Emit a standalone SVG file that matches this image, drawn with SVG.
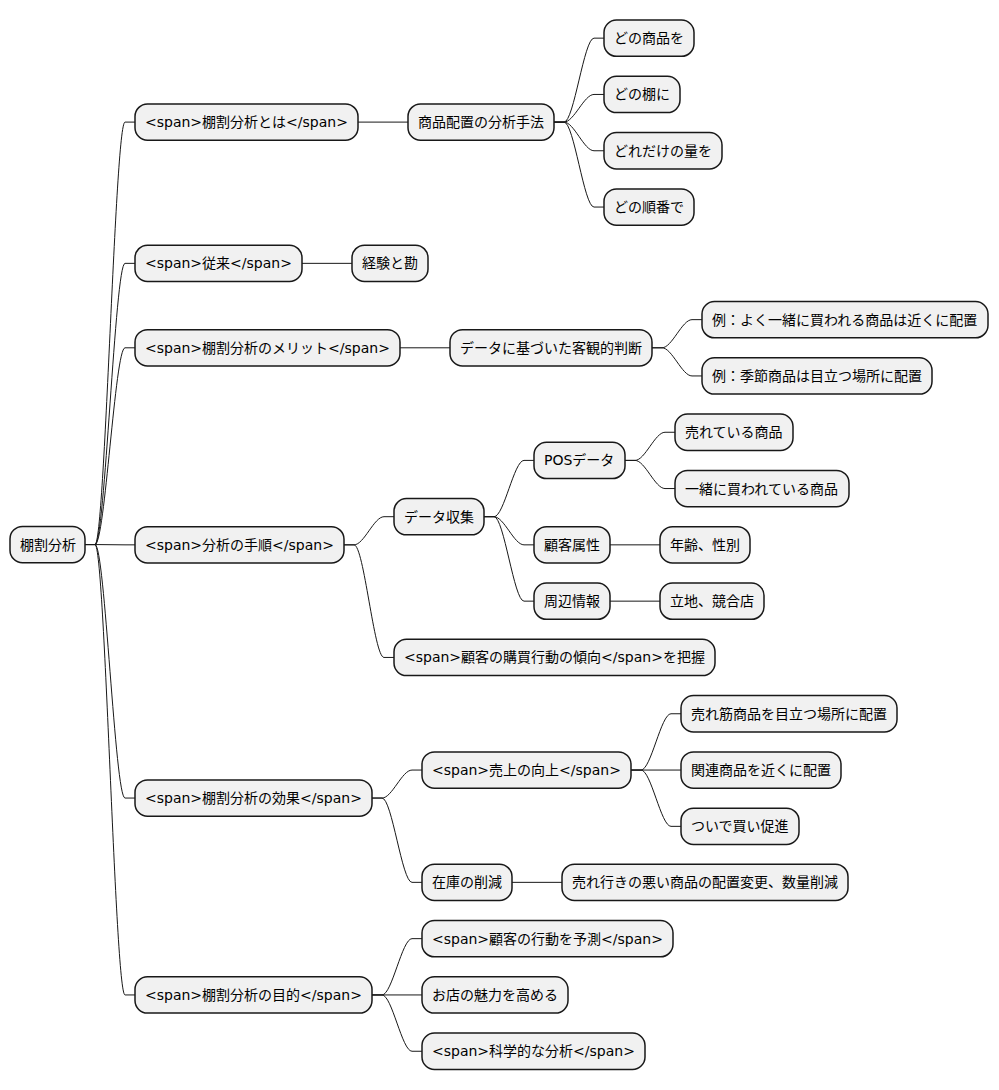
<svg xmlns="http://www.w3.org/2000/svg" width="999" height="1090" viewBox="0 0 999 1090">
  <style>
    .box { fill: #F1F1F1; stroke: #181818; stroke-width: 1.5; }
    .lbl { font-family: "DejaVu Sans", "Noto Sans CJK JP", sans-serif; font-size: 14px; fill: #000000; }
    .edge { fill: none; stroke: #181818; stroke-width: 1; }
  </style>
  <rect width="999" height="1090" fill="#FFFFFF"/>

  <!-- connectors: stub, S-curve, stub -->
  <g id="connectors">
    <!-- root to first level -->
    <path class="edge" d="M85,544.55 L95,544.55 C105,544.55 115,122.1 125,122.1 L135,122.1"/>
    <path class="edge" d="M85,544.55 L95,544.55 C105,544.55 115,263.35 125,263.35 L135,263.35"/>
    <path class="edge" d="M85,544.55 L95,544.55 C105,544.55 115,347.8 125,347.8 L135,347.8"/>
    <path class="edge" d="M85,544.55 L95,544.55 C105,544.55 115,544.85 125,544.85 L135,544.85"/>
    <path class="edge" d="M85,544.55 L95,544.55 C105,544.55 115,798.05 125,798.05 L135,798.05"/>
    <path class="edge" d="M85,544.55 L95,544.55 C105,544.55 115,994.95 125,994.95 L135,994.95"/>

    <!-- 棚割分析とは branch -->
    <path class="edge" d="M358,122.1 L408,122.1"/>
    <path class="edge" d="M554,122.1 L564,122.1 C574,122.1 584,38.15 594,38.15 L604,38.15"/>
    <path class="edge" d="M554,122.1 L564,122.1 C574,122.1 584,94.45 594,94.45 L604,94.45"/>
    <path class="edge" d="M554,122.1 L564,122.1 C574,122.1 584,150.75 594,150.75 L604,150.75"/>
    <path class="edge" d="M554,122.1 L564,122.1 C574,122.1 584,207.05 594,207.05 L604,207.05"/>

    <!-- 従来 branch -->
    <path class="edge" d="M302,263.35 L352,263.35"/>

    <!-- メリット branch -->
    <path class="edge" d="M400,347.8 L450,347.8"/>
    <path class="edge" d="M652,347.8 L662,347.8 C672,347.8 682,319.65 692,319.65 L702,319.65"/>
    <path class="edge" d="M652,347.8 L662,347.8 C672,347.8 682,375.95 692,375.95 L702,375.95"/>

    <!-- 分析の手順 branch -->
    <path class="edge" d="M344,544.85 L354,544.85 C364,544.85 374,516.7 384,516.7 L394,516.7"/>
    <path class="edge" d="M344,544.85 L354,544.85 C364,544.85 374,657.45 384,657.45 L394,657.45"/>
    <path class="edge" d="M484,516.7 L494,516.7 C504,516.7 514,460.4 524,460.4 L534,460.4"/>
    <path class="edge" d="M484,516.7 L494,516.7 C504,516.7 514,544.85 524,544.85 L534,544.85"/>
    <path class="edge" d="M484,516.7 L494,516.7 C504,516.7 514,601.15 524,601.15 L534,601.15"/>
    <path class="edge" d="M625,460.4 L635,460.4 C645,460.4 655,432.25 665,432.25 L675,432.25"/>
    <path class="edge" d="M625,460.4 L635,460.4 C645,460.4 655,488.55 665,488.55 L675,488.55"/>
    <path class="edge" d="M610,544.85 L660,544.85"/>
    <path class="edge" d="M610,601.15 L660,601.15"/>

    <!-- 効果 branch -->
    <path class="edge" d="M372,798.05 L382,798.05 C392,798.05 402,770.05 412,770.05 L422,770.05"/>
    <path class="edge" d="M372,798.05 L382,798.05 C392,798.05 402,882.35 412,882.35 L422,882.35"/>
    <path class="edge" d="M631,770.05 L641,770.05 C651,770.05 661,713.75 671,713.75 L681,713.75"/>
    <path class="edge" d="M631,770.05 L681,770.05"/>
    <path class="edge" d="M631,770.05 L641,770.05 C651,770.05 661,826.35 671,826.35 L681,826.35"/>
    <path class="edge" d="M512,882.35 L562,882.35"/>

    <!-- 目的 branch -->
    <path class="edge" d="M372,994.95 L382,994.95 C392,994.95 402,938.65 412,938.65 L422,938.65"/>
    <path class="edge" d="M372,994.95 L422,994.95"/>
    <path class="edge" d="M372,994.95 L382,994.95 C392,994.95 402,1051.25 412,1051.25 L422,1051.25"/>
  </g>

  <!-- root -->
  <g id="root">
    <rect class="box" x="10" y="526.4" width="75" height="36.3" rx="12.5"/>
    <text class="lbl" x="20" y="549.6">棚割分析</text>
  </g>

  <!-- first level -->
  <g id="n-toha">
    <rect class="box" x="135" y="103.95" width="223" height="36.3" rx="12.5"/>
    <text class="lbl" x="145" y="127.1">&lt;span&gt;棚割分析とは&lt;/span&gt;</text>
  </g>
  <g id="n-juurai">
    <rect class="box" x="135" y="245.2" width="167" height="36.3" rx="12.5"/>
    <text class="lbl" x="145" y="268.35">&lt;span&gt;従来&lt;/span&gt;</text>
  </g>
  <g id="n-merit">
    <rect class="box" x="135" y="329.65" width="265" height="36.3" rx="12.5"/>
    <text class="lbl" x="145" y="352.8">&lt;span&gt;棚割分析のメリット&lt;/span&gt;</text>
  </g>
  <g id="n-tejun">
    <rect class="box" x="135" y="526.7" width="209" height="36.3" rx="12.5"/>
    <text class="lbl" x="145" y="549.85">&lt;span&gt;分析の手順&lt;/span&gt;</text>
  </g>
  <g id="n-kouka">
    <rect class="box" x="135" y="779.9" width="237" height="36.3" rx="12.5"/>
    <text class="lbl" x="145" y="803.05">&lt;span&gt;棚割分析の効果&lt;/span&gt;</text>
  </g>
  <g id="n-mokuteki">
    <rect class="box" x="135" y="976.8" width="237" height="36.3" rx="12.5"/>
    <text class="lbl" x="145" y="999.95">&lt;span&gt;棚割分析の目的&lt;/span&gt;</text>
  </g>

  <!-- 棚割分析とは children -->
  <g id="n-shuhou">
    <rect class="box" x="408" y="103.95" width="146" height="36.3" rx="12.5"/>
    <text class="lbl" x="418" y="127.1">商品配置の分析手法</text>
  </g>
  <g id="n-dono-shouhin">
    <rect class="box" x="604" y="20" width="90" height="36.3" rx="12.5"/>
    <text class="lbl" x="614" y="43.15">どの商品を</text>
  </g>
  <g id="n-dono-tana">
    <rect class="box" x="604" y="76.3" width="76" height="36.3" rx="12.5"/>
    <text class="lbl" x="614" y="99.45">どの棚に</text>
  </g>
  <g id="n-doredake">
    <rect class="box" x="604" y="132.6" width="118" height="36.3" rx="12.5"/>
    <text class="lbl" x="614" y="155.75">どれだけの量を</text>
  </g>
  <g id="n-junban">
    <rect class="box" x="604" y="188.9" width="90" height="36.3" rx="12.5"/>
    <text class="lbl" x="614" y="212.05">どの順番で</text>
  </g>

  <!-- 従来 child -->
  <g id="n-keiken">
    <rect class="box" x="352" y="245.2" width="76" height="36.3" rx="12.5"/>
    <text class="lbl" x="362" y="268.35">経験と勘</text>
  </g>

  <!-- メリット children -->
  <g id="n-kyakkan">
    <rect class="box" x="450" y="329.65" width="202" height="36.3" rx="12.5"/>
    <text class="lbl" x="460" y="352.8">データに基づいた客観的判断</text>
  </g>
  <g id="n-rei1">
    <rect class="box" x="702" y="301.5" width="286" height="36.3" rx="12.5"/>
    <text class="lbl" x="712" y="324.65">例：よく一緒に買われる商品は近くに配置</text>
  </g>
  <g id="n-rei2">
    <rect class="box" x="702" y="357.8" width="230" height="36.3" rx="12.5"/>
    <text class="lbl" x="712" y="380.95">例：季節商品は目立つ場所に配置</text>
  </g>

  <!-- 分析の手順 children -->
  <g id="n-shuushuu">
    <rect class="box" x="394" y="498.55" width="90" height="36.3" rx="12.5"/>
    <text class="lbl" x="404" y="521.7">データ収集</text>
  </g>
  <g id="n-pos">
    <rect class="box" x="534" y="442.25" width="91" height="36.3" rx="12.5"/>
    <text class="lbl" x="544" y="465.4">POSデータ</text>
  </g>
  <g id="n-ureteiru">
    <rect class="box" x="675" y="414.1" width="118" height="36.3" rx="12.5"/>
    <text class="lbl" x="685" y="437.25">売れている商品</text>
  </g>
  <g id="n-issho">
    <rect class="box" x="675" y="470.4" width="174" height="36.3" rx="12.5"/>
    <text class="lbl" x="685" y="493.55">一緒に買われている商品</text>
  </g>
  <g id="n-zokusei">
    <rect class="box" x="534" y="526.7" width="76" height="36.3" rx="12.5"/>
    <text class="lbl" x="544" y="549.85">顧客属性</text>
  </g>
  <g id="n-nenrei">
    <rect class="box" x="660" y="526.7" width="90" height="36.3" rx="12.5"/>
    <text class="lbl" x="670" y="549.85">年齢、性別</text>
  </g>
  <g id="n-shuuhen">
    <rect class="box" x="534" y="583" width="76" height="36.3" rx="12.5"/>
    <text class="lbl" x="544" y="606.15">周辺情報</text>
  </g>
  <g id="n-ricchi">
    <rect class="box" x="660" y="583" width="104" height="36.3" rx="12.5"/>
    <text class="lbl" x="670" y="606.15">立地、競合店</text>
  </g>
  <g id="n-keikou">
    <rect class="box" x="394" y="639.3" width="321" height="36.3" rx="12.5"/>
    <text class="lbl" x="404" y="662.45">&lt;span&gt;顧客の購買行動の傾向&lt;/span&gt;を把握</text>
  </g>

  <!-- 効果 children -->
  <g id="n-uriage">
    <rect class="box" x="422" y="751.9" width="209" height="36.3" rx="12.5"/>
    <text class="lbl" x="432" y="775.05">&lt;span&gt;売上の向上&lt;/span&gt;</text>
  </g>
  <g id="n-uresuji">
    <rect class="box" x="681" y="695.6" width="216" height="36.3" rx="12.5"/>
    <text class="lbl" x="691" y="718.75">売れ筋商品を目立つ場所に配置</text>
  </g>
  <g id="n-kanren">
    <rect class="box" x="681" y="751.9" width="160" height="36.3" rx="12.5"/>
    <text class="lbl" x="691" y="775.05">関連商品を近くに配置</text>
  </g>
  <g id="n-tsuide">
    <rect class="box" x="681" y="808.2" width="118" height="36.3" rx="12.5"/>
    <text class="lbl" x="691" y="831.35">ついで買い促進</text>
  </g>
  <g id="n-zaiko">
    <rect class="box" x="422" y="864.2" width="90" height="36.3" rx="12.5"/>
    <text class="lbl" x="432" y="887.35">在庫の削減</text>
  </g>
  <g id="n-ureyuki">
    <rect class="box" x="562" y="864.2" width="286" height="36.3" rx="12.5"/>
    <text class="lbl" x="572" y="887.35">売れ行きの悪い商品の配置変更、数量削減</text>
  </g>

  <!-- 目的 children -->
  <g id="n-yosoku">
    <rect class="box" x="422" y="920.5" width="251" height="36.3" rx="12.5"/>
    <text class="lbl" x="432" y="943.65">&lt;span&gt;顧客の行動を予測&lt;/span&gt;</text>
  </g>
  <g id="n-miryoku">
    <rect class="box" x="422" y="976.8" width="146" height="36.3" rx="12.5"/>
    <text class="lbl" x="432" y="999.95">お店の魅力を高める</text>
  </g>
  <g id="n-kagaku">
    <rect class="box" x="422" y="1033.1" width="223" height="36.3" rx="12.5"/>
    <text class="lbl" x="432" y="1056.25">&lt;span&gt;科学的な分析&lt;/span&gt;</text>
  </g>
</svg>
